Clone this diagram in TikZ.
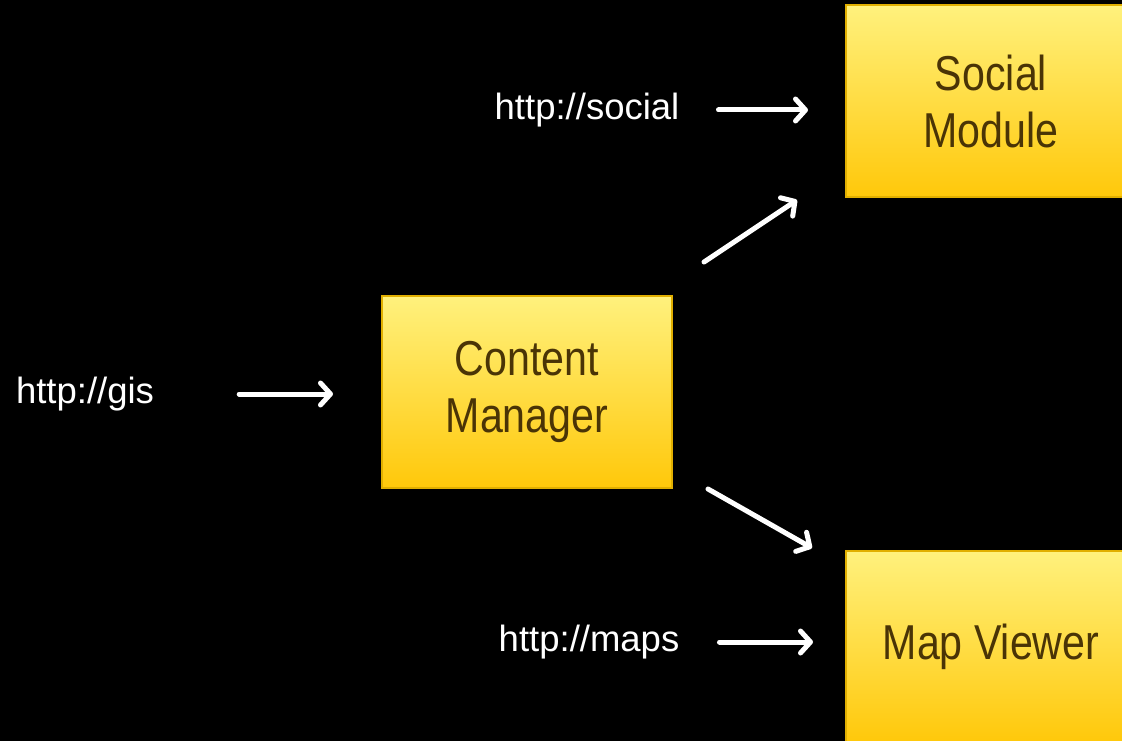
\documentclass[tikz,border=0pt]{standalone}
\usepackage{fontspec}
\setmainfont{Liberation Sans}
\newfontfamily\boxfont[FakeStretch=0.84]{Liberation Sans}
\usetikzlibrary{arrows.meta}
\definecolor{boxtop}{RGB}{255,241,125}
\definecolor{boxbot}{RGB}{255,200,10}
\definecolor{boxline}{RGB}{225,175,0}
\definecolor{boxtext}{RGB}{74,52,6}
\tikzset{
  modbox/.style={draw=boxline, line width=2pt, top color=boxtop, bottom color=boxbot,
    minimum width=290pt, minimum height=192pt, inner sep=0pt, align=center,
    text=boxtext, font=\boxfont\fontsize{49}{57}\selectfont},
  urllabel/.style={inner sep=0pt, text=white, font=\fontsize{36.5}{40}\selectfont},
  flow/.style={draw=white, line width=5pt, line cap=round,
    -{Straight Barb[length=10pt, width=22pt, round]}}
}
\begin{document}
\begin{tikzpicture}[x=1pt, y=-1pt]
\fill[black] (0,0) rectangle (1122,741);
\useasboundingbox (0,0) rectangle (1122,741);
\clip (0,0) rectangle (1122,741);
% boxes
\node[modbox] (social) at (991,101) {Social\\Module};
\node[modbox] (cm) at (527,392) {Content\\Manager};
\node[modbox] (map) at (991,647) {Map Viewer};
% labels
\node[urllabel] (gis) at (85,394) {http://gis};
\node[urllabel] (lsocial) at (587,110) {http://social};
\node[urllabel] (lmaps) at (589,642) {http://maps};
% arrows
\draw[flow, shorten <=85pt, shorten >=48pt] (gis.east) -- (cm.west |- gis.east);
\draw[flow, shorten <=39pt, shorten >=37pt] (lsocial.east) -- (social.west |- lsocial.east);
\draw[flow, shorten <=40pt, shorten >=32pt] (lmaps.east) -- (map.west |- lmaps.east);
\coordinate (up1) at (704,262);
\coordinate (up2) at (797,200);
\coordinate (dn1) at (708,489);
\coordinate (dn2) at (812,548);
\draw[flow] (up1) -- (up2);
\draw[flow] (dn1) -- (dn2);
\end{tikzpicture}
\end{document}
